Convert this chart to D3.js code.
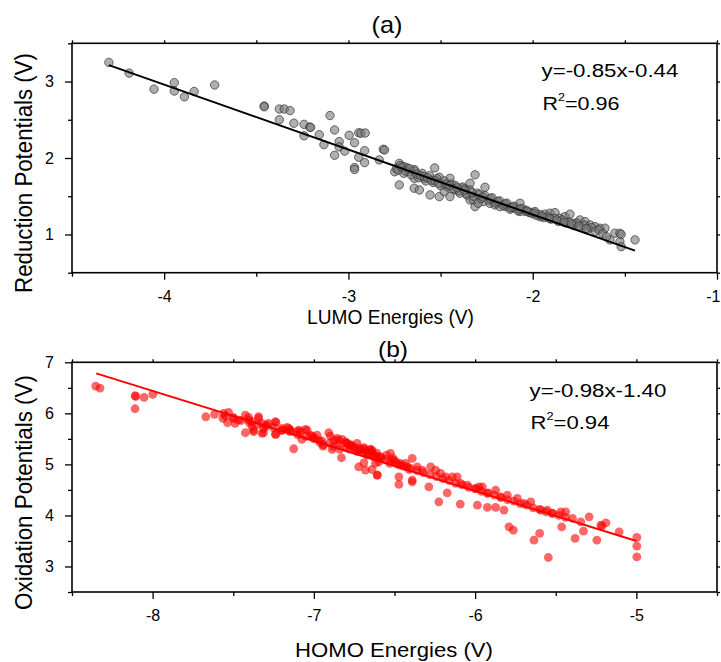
<!DOCTYPE html>
<html><head><meta charset="utf-8">
<script src="https://cdn.jsdelivr.net/npm/d3@7"></script>
<style>
html,body{margin:0;padding:0;background:#fff;}
text{font-family:"Liberation Sans",Arial,sans-serif;fill:#000;}
</style></head>
<body><svg id="c" width="721" height="662"></svg>
<script>
// ---------- Panel (a) data: LUMO energy vs reduction potential ----------
const lumoX = [-4.30,-4.19,-4.055,-3.945,-3.945,-3.89,-3.837,-3.726,-3.457,-3.457,-3.375,-3.348,-3.317,-3.375,-3.296,-3.241,-3.21,-3.205,-3.241,-3.158,-3.133,-3.10,-3.075,-3.075,-3.05,-3.05,-3.02,-2.996,-2.967,-2.967,-2.967,-2.944,-2.944,-2.932,-2.909,-2.912,-2.912,-2.833,-2.811,-2.804,-2.724,-2.749,-2.724,-2.697,-2.675,-2.643,-2.643,-2.643,-2.615,-2.588,-2.557,-2.532,-2.507,-2.507,-2.48,-2.48,-2.449,-2.449,-2.422,-2.395,-2.367,-2.34,-2.313,-2.34,-2.313,-2.259,-2.386,-2.358,-2.322,-2.295,-2.268,-2.232,-2.205,-2.178,-2.150,-2.123,-2.096,-2.069,-2.069,-2.042,-2.015,-1.988,-1.961,-1.934,-1.906,-1.879,-1.852,-1.825,-1.798,-1.771,-1.744,-1.716,-1.689,-1.662,-1.635,-1.608,-1.581,-1.554,-1.527,-1.527,-1.445,-1.52,-1.52,
-2.74,-2.72,-2.70,-2.68,-2.66,-2.64,-2.62,-2.60,-2.58,-2.56,-2.54,-2.52,-2.50,-2.48,-2.46,-2.44,-2.42,-2.40,-2.38,-2.36,-2.34,-2.32,-2.30,-2.28,-2.26,-2.24,-2.22,-2.20,-2.18,-2.16,-2.14,-2.12,-2.10,-2.08,-2.06,-2.04,-2.02,-2.00,-1.98,-1.96,-1.94,-1.92,-1.90,-1.88,-1.86,-1.84,-1.82,-1.80,-1.78,-1.76,-1.74,-1.72,-1.70,-1.68,-1.66,-1.64,-1.62,-1.60,
-2.73,-2.71,-2.69,-2.67,-2.63,-2.61,-2.59,-2.57,-2.55,-2.53,-2.51,-2.47,-2.45,-2.43,-2.41,-2.37,-2.33,-2.29,-2.27,-2.23,-2.19,-2.15,-2.11,-2.07,-2.03,-1.99,-1.95,-1.91,-1.87,-1.83,-1.79,-1.75,-1.71];
const redPot = [3.25,3.11,2.90,2.985,2.876,2.80,2.87,2.955,2.68,2.67,2.64,2.64,2.62,2.50,2.455,2.44,2.405,2.40,2.29,2.305,2.175,2.555,2.367,2.036,2.215,2.145,2.09,2.297,2.20,1.875,1.85,2.33,2.01,2.324,2.327,2.096,1.94,1.975,2.114,2.105,1.93,1.82,1.648,1.887,1.82,1.85,1.735,1.605,1.582,1.73,1.517,1.87,1.748,1.495,1.648,1.56,1.735,1.495,1.582,1.54,1.60,1.67,1.78,1.452,1.364,1.617,1.605,1.517,1.452,1.408,1.43,1.408,1.386,1.364,1.364,1.33,1.343,1.408,1.30,1.321,1.286,1.30,1.233,1.265,1.278,1.286,1.213,1.233,1.265,1.147,1.19,1.168,1.125,1.103,1.082,1.082,0.929,1.016,1.016,0.906,0.929,1.0,0.84,
1.86,1.90,1.80,1.87,1.78,1.83,1.74,1.80,1.70,1.77,1.68,1.73,1.64,1.70,1.62,1.66,1.64,1.57,1.62,1.54,1.58,1.50,1.54,1.47,1.51,1.45,1.48,1.41,1.44,1.38,1.41,1.35,1.37,1.31,1.34,1.30,1.29,1.27,1.25,1.26,1.22,1.23,1.20,1.21,1.17,1.19,1.15,1.16,1.12,1.15,1.10,1.12,1.07,1.09,1.04,1.06,1.01,0.97,
1.84,1.88,1.83,1.86,1.79,1.77,1.76,1.74,1.71,1.70,1.67,1.66,1.64,1.60,1.61,1.58,1.55,1.52,1.49,1.47,1.43,1.40,1.36,1.33,1.31,1.28,1.24,1.21,1.19,1.16,1.14,1.11,1.08];
const fitA = {slope:-0.85, intercept:-0.44, x0:-4.30, x1:-1.445};
const xTicksA = [-4,-3,-2,-1];
const xMinorA = [-4.5,-3.5,-2.5,-1.5];
const yTicksA = [1,2,3];
const yMinorA = [0.5,1.5,2.5,3.5];

// ---------- Panel (b) data: HOMO energy vs oxidation potential ----------
const homoX = [-8.353,-8.326,-8.109,-8.105,-8.109,-8.053,-7.999,-7.67,-7.616,-7.564,-7.56,-7.529,-7.535,-7.498,-7.488,-7.425,-7.425,-7.405,-7.384,-7.343,-7.322,-7.374,-7.312,-7.312,-7.291,-7.235,-7.235,-7.198,-7.157,-7.146,-7.125,-7.094,-7.084,-7.074,-7.042,-7.011,-7.001,-6.98,-6.97,-6.944,-6.908,-6.898,-6.877,-6.887,-6.856,-6.825,-6.794,-6.829,-6.753,-6.732,-6.722,-6.722,
-7.467,-7.405,-7.384,-7.374,-7.343,-7.322,-7.281,-7.239,-7.239,-7.198,-7.166,-7.146,-7.104,-7.053,-7.022,-6.96,-6.939,-6.846,-6.804,-6.773,-6.711,-6.69,-6.67,-6.639,-6.618,-6.69,-6.68,-6.639,-6.607,-6.597,
-6.649,-6.587,-6.525,-6.504,-6.463,-6.39,-6.421,-6.359,-6.328,-6.276,-6.245,-6.214,-6.183,-6.142,-6.111,-6.09,-6.048,-5.997,-5.976,-5.955,-5.924,-5.873,-5.842,-5.8,-5.738,-5.697,-5.655,-5.593,-5.552,-5.521,-5.469,-5.438,-5.396,-5.345,-5.293,-5.22,-5.189,-5.107,-4.997,
-6.618,-6.607,-6.473,-6.473,-6.39,-6.39,-6.287,-6.225,-6.173,-6.092,-5.986,-5.924,-5.873,-5.821,-5.79,-5.763,-5.635,-5.6,-5.546,-5.463,-5.38,-5.328,-5.245,-5.214,-4.997,-4.997,
-7.55,-7.50,-7.45,-7.40,-7.35,-7.30,-7.25,-7.20,-7.15,-7.10,-7.05,-7.00,-6.95,-6.90,-6.85,-6.80,-6.78,-6.76,-6.74,-6.72,-6.70,-6.68,-6.66,-6.64,-6.62,-6.60,-6.56,-6.52,-6.48,-6.44,-6.40,-6.36,-6.32,-6.28,-6.24,-6.20,-6.16,-6.12,-6.08,-6.04,-6.00,-5.96,-5.92,-5.88,-5.84,-5.80,-5.76,-5.72,-5.68,-5.64,-5.60,-5.56,-5.52,-5.48,-5.44,
-6.88,-6.84,-6.80,-6.77,-6.73,-6.69,-6.67,-6.65,-6.63,-6.61,-6.58,-6.55,-6.53,-6.51,-6.49,-6.46,-6.43,-6.41];
const oxPot = [6.535,6.496,6.345,6.33,6.09,6.314,6.372,5.933,5.98,5.902,6.0,6.02,5.816,5.902,5.804,5.967,5.62,5.87,5.737,5.902,5.804,5.673,5.62,5.706,5.77,5.824,5.594,5.706,5.706,5.673,5.306,5.673,5.64,5.49,5.673,5.555,5.529,5.575,5.477,5.359,5.62,5.555,5.477,5.294,5.51,5.49,5.412,5.13,5.345,5.412,5.28,4.953,
5.869,5.92,5.835,5.64,5.935,5.608,5.804,5.835,5.588,5.673,5.725,5.673,5.64,5.686,5.575,5.425,5.38,5.477,5.443,5.378,5.28,5.31,5.216,5.28,5.15,5.03,4.888,4.9,4.79,5.05,
5.28,5.15,5.216,5.085,5.02,5.118,4.953,4.953,4.888,4.953,4.888,4.823,4.757,4.757,4.757,4.627,4.594,4.529,4.561,4.561,4.431,4.496,4.365,4.398,4.333,4.235,4.267,4.104,4.104,4.039,4.071,4.071,3.941,3.875,3.973,3.81,3.855,3.678,3.569,
5.02,4.79,4.757,4.608,4.692,4.659,4.561,4.267,4.443,4.222,4.2,4.157,4.157,4.104,3.777,3.712,3.516,3.647,3.176,3.777,3.549,3.692,3.516,3.79,3.398,3.188,
5.95,5.92,5.86,5.82,5.78,5.75,5.72,5.66,5.64,5.58,5.55,5.50,5.46,5.42,5.38,5.33,5.30,5.35,5.27,5.32,5.24,5.28,5.20,5.24,5.17,5.14,5.10,5.06,5.00,4.96,4.92,4.88,4.84,4.80,4.76,4.72,4.68,4.63,4.60,4.55,4.52,4.47,4.44,4.40,4.35,4.31,4.28,4.23,4.20,4.15,4.12,4.07,4.04,4.00,3.96,
5.35,5.30,5.42,5.38,5.25,5.33,5.18,5.30,5.15,5.22,5.12,5.18,5.02,5.12,5.05,4.98,5.02,4.90];
const fitB = {slope:-0.98, intercept:-1.40, x0:-8.35, x1:-5.0};
const xTicksB = [-8,-7,-6,-5];
const xMinorB = [-8.5,-7.5,-6.5,-5.5,-4.5];
const yTicksB = [3,4,5,6,7];
const yMinorB = [2.5,3.5,4.5,5.5,6.5];

const svg = d3.select("#c");

// text whose glyph size and overall width both follow the reference
function stext(parent, x, y, size, width, anchor, rot, build){
  const g = parent.append("g").attr("transform", `translate(${x},${y})` + (rot ? ` rotate(${rot})` : ""));
  const t = g.append("text").attr("font-size", size).attr("text-anchor", anchor);
  build(t);
  const w = t.node().getComputedTextLength();
  t.attr("transform", `scale(${width / w},1)`);
  return t;
}

function panel(cfg){
  const g = svg.append("g");
  const x = d3.scaleLinear().domain(cfg.xDom).range([72,717]);
  const y = d3.scaleLinear().domain(cfg.yDom).range([cfg.bottom, cfg.top]);
  const pts = d3.zip(cfg.xs, cfg.ys);
  g.selectAll("circle").data(pts).enter().append("circle")
    .attr("cx", d=>x(d[0])).attr("cy", d=>y(d[1])).attr("r", cfg.r)
    .attr("fill", cfg.fill).attr("fill-opacity", cfg.fo)
    .attr("stroke", cfg.stroke).attr("stroke-opacity", cfg.so).attr("stroke-width", 1);
  const f = cfg.fit;
  g.append("line")
    .attr("x1", x(f.x0)).attr("y1", y(f.slope*f.x0+f.intercept))
    .attr("x2", x(f.x1)).attr("y2", y(f.slope*f.x1+f.intercept))
    .attr("stroke", cfg.lineColor).attr("stroke-width", 2);

  function ax(gen, transform, vals, size, labels){
    const a = g.append("g").attr("transform", transform)
      .call(gen.tickValues(vals).tickSize(size).tickPadding(labels?11:0)
        .tickFormat(labels ? (d => (d<0 ? "-" + Math.abs(d) : "" + d)) : ()=>""));
    a.select(".domain").remove();
    a.selectAll("line").attr("stroke","#000").attr("stroke-width",1.3);
    a.selectAll("text").attr("font-size", 16).attr("fill","#000").attr("font-family", "Liberation Sans, Arial, sans-serif");
    return a;
  }
  const bx = ax(d3.axisBottom(x), `translate(0,${cfg.bottom})`, cfg.xT, 7, true);
  // keep the edge label inside the picture
  bx.selectAll(".tick").filter(d => x(d) > 710).select("text")
    .attr("text-anchor","end").attr("x", 720 - x(cfg.xDom[1]));
  ax(d3.axisBottom(x), `translate(0,${cfg.bottom})`, cfg.xM, 4, false);
  ax(d3.axisLeft(y), `translate(72,0)`, cfg.yT, 7, true);
  ax(d3.axisLeft(y), `translate(72,0)`, cfg.yM, 4, false);
  ax(d3.axisTop(x), `translate(0,${cfg.top})`, cfg.xT.concat(cfg.xM), 3, false);
  ax(d3.axisRight(y), `translate(717,0)`, cfg.yT.concat(cfg.yM), 3, false);

  g.append("rect").attr("x",72).attr("y",cfg.top).attr("width",645).attr("height",cfg.bottom-cfg.top)
    .attr("fill","none").attr("stroke","#000").attr("stroke-width",1.6);

  stext(g, cfg.titleX, cfg.titleY, 23, cfg.titleW, "middle", 0, t => t.text(cfg.title));
  stext(g, cfg.xLabX, cfg.xLabY, 20, cfg.xLabW, "middle", 0, t => t.text(cfg.xLab));
  stext(g, 32, cfg.yLabC, 24.5, cfg.yLabW, "middle", -90, t => t.text(cfg.yLab));
  stext(g, cfg.annX, cfg.annY, 19, cfg.eqW, "start", 0, t => t.text(cfg.eq));
  stext(g, cfg.annX + 1, cfg.annY + cfg.r2dy, 19, cfg.r2W, "start", 0, t => {
    t.append("tspan").text("R");
    t.append("tspan").attr("font-size", 11).attr("dy", -9).text("2");
    t.append("tspan").attr("dy", 9).text("=" + cfg.r2);
  });
}

panel({xDom:[-4.5,-1], yDom:[0.5,3.5], top:43.3, bottom:272.7, xs:lumoX, ys:redPot,
  r:4.2, fill:"#7a7a7a", fo:0.6, stroke:"#333", so:0.7, fit:fitA, lineColor:"#000",
  xT:xTicksA, xM:xMinorA, yT:yTicksA, yM:yMinorA,
  title:"(a)", titleX:387, titleY:33, titleW:31,
  xLab:"LUMO Energies (V)", xLabX:390.5, xLabY:324, xLabW:167,
  yLab:"Reduction Potentials (V)", yLabC:173, yLabW:240,
  eq:"y=-0.85x-0.44", eqW:137, r2:"0.96", r2W:77, r2dy:33, annX:541.5, annY:77});

panel({xDom:[-8.5,-4.5], yDom:[2.5,7], top:362.3, bottom:592, xs:homoX, ys:oxPot,
  r:4.4, fill:"#ff0000", fo:0.6, stroke:"none", so:0, fit:fitB, lineColor:"#ff0000",
  xT:xTicksB, xM:xMinorB, yT:yTicksB, yM:yMinorB,
  title:"(b)", titleX:393, titleY:357, titleW:30,
  xLab:"HOMO Energies (V)", xLabX:394, xLabY:657, xLabW:198,
  yLab:"Oxidation Potentials (V)", yLabC:492.5, yLabW:235,
  eq:"y=-0.98x-1.40", eqW:137, r2:"0.94", r2W:79, r2dy:32, annX:529.5, annY:397});
</script></body></html>
